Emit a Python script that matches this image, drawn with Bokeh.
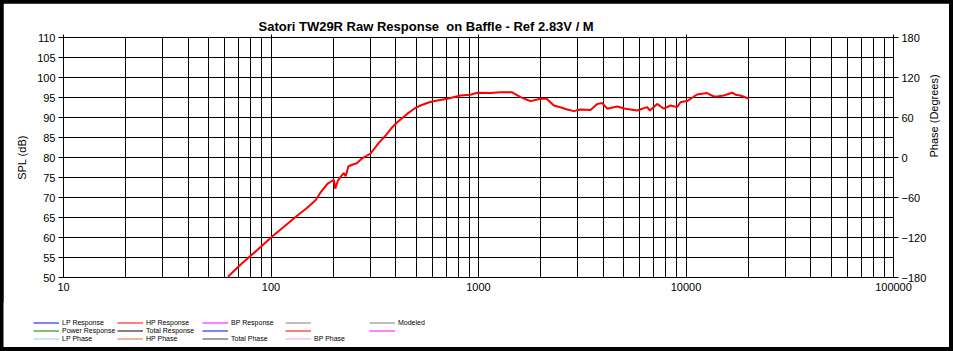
import math
from bokeh.plotting import figure
from bokeh.models import (LogAxis, LinearAxis, Range1d, FixedTicker,
                          NumeralTickFormatter, Legend, LegendItem)
from bokeh.layouts import column
from bokeh.embed import file_html
from bokeh.resources import INLINE

# ---------------- data ----------------
freq_hz = [62, 70, 80, 90, 101, 115, 134, 150, 164, 173, 187, 195, 201, 204,
           210, 216, 224, 229, 236, 250, 260, 275, 302, 330, 357, 380, 406,
           453, 490, 525, 580, 632, 707, 818, 914, 986, 1143, 1277, 1453,
           1594, 1700, 1782, 1990, 2128, 2308, 2500, 2676, 2884, 3105, 3467,
           3735, 3948, 4172, 4659, 5109, 5816, 6500, 6700, 7260, 7820, 8420,
           9060, 9400, 10120, 11300, 12630, 13600, 14300, 15200, 16680,
           17500, 18300, 20100]
spl_db = [50.2, 52.8, 55.5, 57.8, 60.2, 62.6, 65.5, 67.5, 69.3, 71.2, 73.4,
          74.0, 74.4, 72.2, 74.2, 75.1, 76.1, 75.3, 77.8, 78.3, 78.6, 79.8,
          81.0, 83.6, 85.5, 87.3, 88.8, 90.9, 92.2, 93.0, 93.8, 94.25, 94.7,
          95.5, 95.7, 96.2, 96.1, 96.3, 96.3, 95.1, 94.5, 94.1, 94.7, 94.7,
          93.0, 92.5, 92.0, 91.6, 92.0, 91.9, 93.4, 93.6, 92.2, 92.75, 92.2,
          91.75, 92.6, 91.75, 93.4, 92.2, 93.0, 92.6, 93.8, 94.1, 95.75,
          96.1, 95.25, 95.3, 95.5, 96.2, 95.6, 95.5, 94.7]

spl_ticks = [50, 55, 60, 65, 70, 75, 80, 85, 90, 95, 100, 105, 110]
phase_ticks = [-180, -120, -60, 0, 60, 120, 180]
decade_ticks = [10, 100, 1000, 10000, 100000]
minor_freq_ticks = [m * d for d in [10, 100, 1000, 10000] for m in range(2, 10)]

legend_columns = [
    [("LP Response", "#0000FF"), ("Power Response", "#008000"), ("LP Phase", "#99C8F0")],
    [("HP Response", "#FF0000"), ("Total Response", "#000000"), ("HP Phase", "#E06A28")],
    [("BP Response", "#FF00FF"), ("", "#0000FF"), ("Total Phase", "#404040")],
    [("", "#808080"), ("", "#FF0000"), ("BP Phase", "#FF9CC8")],
    [("Modeled", "#808080"), ("", "#FF00FF")],
]

FONT = "Liberation Sans"
TITLE = "Satori TW29R Raw Response \u00a0on Baffle - Ref 2.83V / M"

p = figure(width=946, height=300, output_backend="svg", toolbar_location=None,
           x_axis_type="log", x_range=Range1d(10, 100000), y_range=Range1d(50, 110),
           min_border_left=60, min_border_right=56, min_border_top=34,
           min_border_bottom=26)
p.frame_align = False
p.margin = (3, 4, 0, 3)
p.background_fill_color = "white"
p.border_fill_color = "white"
p.outline_line_color = "black"
p.outline_line_width = 1

p.title.text = TITLE
p.title.text_font = FONT
p.title.text_font_size = "13px"
p.title.text_font_style = "bold"
p.title.text_color = "black"
p.title.align = "left"
p.title.offset = 195
p.title.standoff = 2

# bottom axis
xa = p.xaxis[0]
xa.ticker = FixedTicker(ticks=decade_ticks, minor_ticks=minor_freq_ticks)
xa.formatter = NumeralTickFormatter(format="0")
xa.major_tick_out = 0
xa.major_tick_in = 0
xa.minor_tick_out = 0
xa.minor_tick_in = 0
xa.major_label_standoff = 5
xa.major_label_text_font = FONT
xa.major_label_text_font_size = "11px"
xa.major_label_text_color = "black"
xa.axis_line_color = "black"

# top axis (ticks only)
ta = LogAxis(ticker=FixedTicker(ticks=decade_ticks),
             major_label_overrides={t: "" for t in decade_ticks})
ta.major_tick_out = 3
ta.major_tick_in = 0
ta.minor_tick_out = 0
ta.minor_tick_in = 0
ta.major_label_standoff = 0
ta.major_label_text_font_size = "1px"
ta.axis_line_color = "black"
p.add_layout(ta, "above")

# left axis
ya = p.yaxis[0]
ya.ticker = FixedTicker(ticks=spl_ticks)
ya.major_tick_out = 5
ya.major_tick_in = 0
ya.minor_tick_out = 0
ya.minor_tick_in = 0
ya.major_label_standoff = 3
ya.major_label_text_font = FONT
ya.major_label_text_font_size = "11px"
ya.major_label_text_color = "black"
ya.axis_label = "SPL (dB)"
ya.axis_label_text_font = FONT
ya.axis_label_text_font_size = "11px"
ya.axis_label_text_font_style = "normal"
ya.axis_label_text_color = "black"
ya.axis_label_standoff = 6
ya.axis_line_color = "black"

# right axis (phase)
p.extra_y_ranges = {"phase": Range1d(-180, 180)}
ra = LinearAxis(y_range_name="phase", ticker=FixedTicker(ticks=phase_ticks))
ra.major_tick_out = 5
ra.major_tick_in = 0
ra.minor_tick_out = 0
ra.minor_tick_in = 0
ra.major_label_standoff = 3
ra.major_label_text_font = FONT
ra.major_label_text_font_size = "11px"
ra.major_label_text_color = "black"
ra.axis_label = "Phase (Degrees)"
ra.axis_label_text_font = FONT
ra.axis_label_text_font_size = "11px"
ra.axis_label_text_font_style = "normal"
ra.axis_label_text_color = "black"
ra.axis_label_standoff = 5
ra.axis_label_orientation = math.pi / 2
ra.axis_line_color = "black"
p.add_layout(ra, "right")

# grid
p.xgrid.grid_line_color = "black"
p.xgrid.minor_grid_line_color = "black"
p.xgrid.grid_line_width = 1
p.xgrid.minor_grid_line_width = 1
p.ygrid.grid_line_color = "black"
p.ygrid.grid_line_width = 1

# data
p.line(freq_hz, spl_db, line_color="#FF0000", line_width=2)

# legend strip (separate figure below the chart)
lf = figure(width=946, height=45, output_backend="svg", toolbar_location=None,
            x_range=Range1d(0, 1), y_range=Range1d(0, 1),
            x_axis_location=None, y_axis_location=None,
            min_border_left=0, min_border_right=0, min_border_top=0,
            min_border_bottom=0)
lf.frame_align = False
lf.margin = (-1, 4, 4, 3)
lf.grid.visible = False
lf.outline_line_color = None
lf.background_fill_color = "white"
lf.border_fill_color = "white"

col_x = [30, 114, 199, 282, 366]
for cx, entries in zip(col_x, legend_columns):
    items = []
    for label, color in entries:
        # dummy off-range line so that the legend swatch can be drawn
        r = lf.line(x=[5, 6], y=[5, 5], line_color=color, line_width=1)
        items.append(LegendItem(label=label, renderers=[r]))
    n = len(entries)
    lg = Legend(items=items, location=(cx, 5 + (3 - n) * 8),
                orientation="vertical", padding=0, margin=0, spacing=1,
                glyph_width=26, glyph_height=7, label_height=7,
                label_standoff=3, label_text_font=FONT,
                label_text_font_size="7px", label_text_color="black",
                border_line_color=None, background_fill_alpha=0)
    lf.add_layout(lg, "center")

layout = column(p, lf, spacing=0, styles={"background-color": "black"})

open("out.html", "w").write(file_html(layout, INLINE))
